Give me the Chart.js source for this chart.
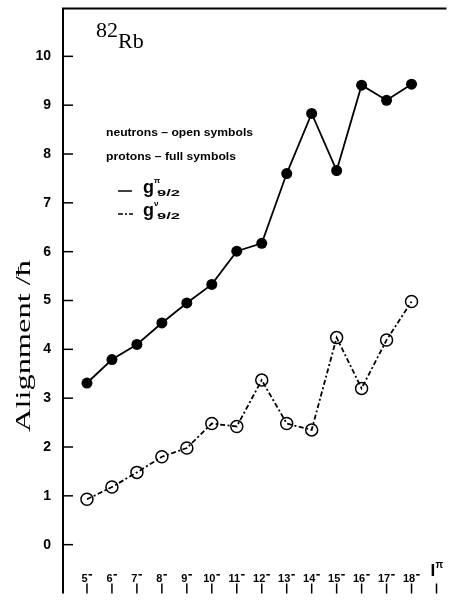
<!DOCTYPE html>
<html>
<head>
<meta charset="utf-8">
<script src="https://cdn.jsdelivr.net/npm/chart.js@4"></script>
<style>
  body { margin: 0; background: #fff; }
  canvas { display: block; }
</style>
</head>
<body>
<canvas id="myChart" width="454" height="601"></canvas>
<script>
// spin values (I, negative parity) along the x axis
var spins = [5, 6, 7, 8, 9, 10, 11, 12, 13, 14, 15, 16, 17, 18];
var spinLabels = ['5', '6', '7', '8', '9', '10', '11', '12', '13', '14', '15', '16', '17', '18'];

// alignment
var protons = [3.31, 3.79, 4.10, 4.54, 4.95, 5.33, 6.01, 6.17, 7.60, 8.83, 7.66, 9.41, 9.10, 9.43];
var neutrons = [0.93, 1.18, 1.48, 1.80, 1.98, 2.48, 2.42, 3.37, 2.48, 2.35, 4.24, 3.20, 4.19, 4.98];

var yTicks = [0, 1, 2, 3, 4, 5, 6, 7, 8, 9, 10];

function points(vals) {
  return vals.map(function(v, i) { return {x: spins[i], y: v}; });
}

var SANS = '"Liberation Sans", Arial, Helvetica, sans-serif';
var SERIF = '"Liberation Serif", "Times New Roman", serif';

// draw text squeezed/stretched to a given width
function fitText(ctx, text, x, y, width) {
  var w = ctx.measureText(text).width;
  ctx.save();
  ctx.translate(x, y);
  ctx.scale(width / w, 1);
  ctx.fillText(text, 0, 0);
  ctx.restore();
}

var framePlugin = {
  id: 'frame',
  afterDraw: function(chart) {
    var ctx = chart.ctx;
    var a = chart.chartArea;
    var xs = chart.scales.x;
    var ys = chart.scales.y;
    ctx.save();
    ctx.strokeStyle = '#000';
    ctx.fillStyle = '#000';

    // left axis + top border
    ctx.lineWidth = 2;
    ctx.beginPath();
    ctx.moveTo(a.left + 1, a.bottom);
    ctx.lineTo(a.left + 1, a.top + 1);
    ctx.lineTo(a.right, a.top + 1);
    ctx.stroke();

    // y ticks (inward) and labels
    ctx.lineWidth = 1.5;
    ctx.font = 'bold 14px ' + SANS;
    ctx.textAlign = 'right';
    ctx.textBaseline = 'middle';
    yTicks.forEach(function(t) {
      var py = ys.getPixelForValue(t);
      ctx.beginPath();
      ctx.moveTo(a.left, py);
      ctx.lineTo(a.left + 11, py);
      ctx.stroke();
      ctx.fillText(String(t), 51, py);
    });

    // x ticks at the bottom
    var tickSpins = spins.concat([19]);
    tickSpins.forEach(function(s) {
      var px = xs.getPixelForValue(s);
      ctx.beginPath();
      ctx.moveTo(px, a.bottom - 10);
      ctx.lineTo(px, a.bottom);
      ctx.stroke();
    });

    // x labels like 5⁻
    ctx.font = 'bold 11px ' + SANS;
    ctx.textAlign = 'left';
    ctx.textBaseline = 'alphabetic';
    spinLabels.forEach(function(lab, i) {
      var px = xs.getPixelForValue(spins[i]);
      var w = ctx.measureText(lab).width;
      var start = px - (w + 5) / 2;
      ctx.fillText(lab, start, 582);
      ctx.fillRect(start + w + 1, 574, 3.5, 1.6);
    });

    // I^pi at the end of the axis
    var pEnd = xs.getPixelForValue(19);
    ctx.font = 'bold 17px ' + SANS;
    ctx.fillText('I', pEnd - 6, 576);
    ctx.font = 'bold 10px ' + SANS;
    ctx.fillText('\u03c0', pEnd - 1, 568);

    // y axis title
    ctx.save();
    ctx.translate(30, 346);
    ctx.rotate(-Math.PI / 2);
    ctx.font = '22px ' + SERIF;
    ctx.textBaseline = 'alphabetic';
    var title = 'Alignment /\u0127';
    var tw = ctx.measureText(title).width;
    ctx.scale(172 / tw, 1);
    ctx.fillText(title, -tw / 2, 0);
    ctx.restore();

    // nucleus label
    ctx.font = '22px ' + SERIF;
    ctx.fillText('82', 96, 37);
    ctx.fillText('Rb', 96 + ctx.measureText('82').width, 48);

    // in-plot legend
    ctx.font = 'bold 11px ' + SANS;
    ctx.textBaseline = 'middle';
    fitText(ctx, 'neutrons \u2013 open symbols', 106, 133, 147);
    fitText(ctx, 'protons \u2013 full symbols', 106, 157, 130);

    ctx.lineWidth = 1.5;
    ctx.beginPath();
    ctx.moveTo(118, 191);
    ctx.lineTo(132, 191);
    ctx.stroke();
    ctx.setLineDash([5, 2, 2, 2]);
    ctx.beginPath();
    ctx.moveTo(118, 214);
    ctx.lineTo(133, 214);
    ctx.stroke();
    ctx.setLineDash([]);

    ctx.textBaseline = 'alphabetic';
    [['\u03c0', 193], ['\u03bd', 216]].forEach(function(row) {
      ctx.font = 'bold 18px ' + SANS;
      ctx.fillText('g', 143, row[1]);
      ctx.font = 'bold 8px ' + SANS;
      ctx.fillText(row[0], 154, row[1] - 10);
      ctx.font = 'bold 9px ' + SANS;
      fitText(ctx, '9/2', 157, row[1] + 3, 23);
    });

    ctx.restore();
  }
};

var ctx = document.getElementById('myChart');

new Chart(ctx, {
  type: 'line',
  data: {
    datasets: [{
      label: 'protons',
      data: points(protons),
      borderColor: '#000',
      borderWidth: 1.8,
      pointRadius: 5.5,
      pointBackgroundColor: '#000',
      pointBorderColor: '#000',
      pointBorderWidth: 0,
      tension: 0
    }, {
      label: 'neutrons',
      data: points(neutrons),
      borderColor: '#000',
      borderWidth: 1.8,
      borderDash: [5, 2.5, 2, 2.5],
      pointRadius: 6,
      pointBackgroundColor: 'rgba(0,0,0,0)',
      pointBorderColor: '#000',
      pointBorderWidth: 1.5,
      tension: 0
    }]
  },
  options: {
    responsive: false,
    animation: false,
    layout: { padding: { left: 62, top: 7, right: 0, bottom: 0 } },
    scales: {
      x: { type: 'linear', min: 4, max: 19.4, display: false },
      y: { min: -1, max: 11, display: false }
    },
    plugins: {
      legend: { display: false },
      tooltip: { enabled: false }
    }
  },
  plugins: [framePlugin]
});
</script>
</body>
</html>
